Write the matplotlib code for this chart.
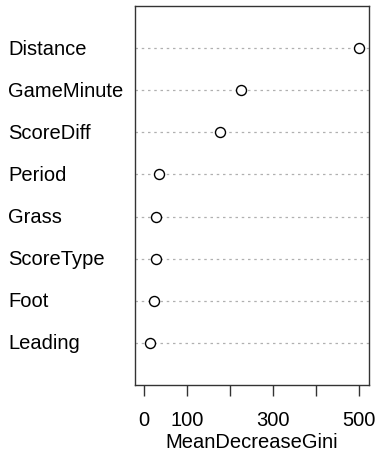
import matplotlib
matplotlib.use("Agg")
import matplotlib.pyplot as plt

plt.rcParams["font.family"] = ["Liberation Sans", "DejaVu Sans"]

# variable importance (random forest), top to bottom as drawn
variables = ["Distance", "GameMinute", "ScoreDiff", "Period",
             "Grass", "ScoreType", "Foot", "Leading"]
gini = [500, 225, 178, 35, 28, 28, 23, 14]

x_ticks = [0, 100, 200, 300, 400, 500]
x_ticklabels = ["0", "100", "", "300", "", "500"]

fig = plt.figure(figsize=(3.77, 4.56), dpi=100)
ax = fig.add_axes([0.358, 0.1535, 0.621, 0.831])

n = len(variables)
ypos = list(range(n, 0, -1))
for y in ypos:
    ax.axhline(y, color="#b0b0b0", lw=0.9, ls=(0, (2, 3)), zorder=1)
ax.scatter(gini, ypos, s=52, facecolors="white", edgecolors="black",
           linewidths=1.0, zorder=3)

ax.set_xlim(-21, 524)
ax.set_ylim(0, n + 1)
ax.set_yticks([])
ax.set_xticks(x_ticks)
ax.set_xticklabels(x_ticklabels, fontsize=14.5)
ax.tick_params(axis="x", length=8, width=1, pad=10, color="#333333")
for sp in ax.spines.values():
    sp.set_color("#333333")
    sp.set_linewidth(1)
ax.set_xlabel("MeanDecreaseGini", fontsize=14.5, labelpad=2)

# row labels, left aligned in the figure margin
for lab, y in zip(variables, ypos):
    xf = 8 / 377
    _, yf = fig.transFigure.inverted().transform(ax.transData.transform((0, y)))
    fig.text(xf, yf, lab, ha="left", va="center", fontsize=14.5)

fig.savefig("out.png", dpi=100)
